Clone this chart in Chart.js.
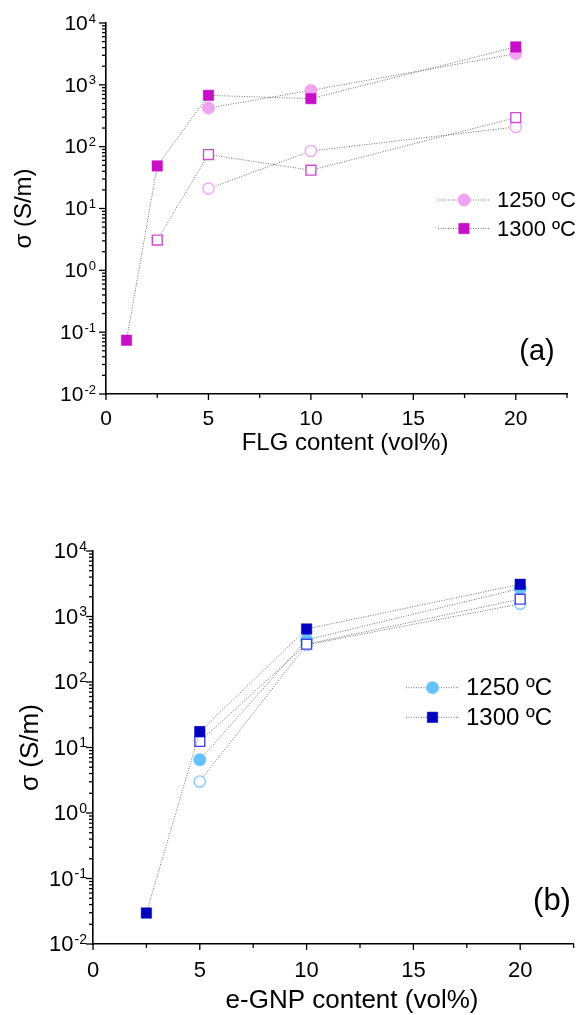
<!DOCTYPE html>
<html lang="en">
<head>
<meta charset="UTF-8">
<title>Conductivity vs filler content</title>
<script src="https://cdn.jsdelivr.net/npm/chart.js"></script>
<style>
  body { margin: 0; background: #fff; }
  .panel { position: absolute; left: 0; width: 582px; }
  #panelA { top: 0; height: 470px; }
  #panelB { top: 470px; height: 545px; }
</style>
</head>
<body>
<div class="panel" id="panelA"><canvas id="flgChart"></canvas></div>
<div class="panel" id="panelB"><canvas id="gnpChart"></canvas></div>

<script>
  // panel (a): FLG content (vol%) vs sigma (S/m)
  const flgX1300 = [1, 2.5, 5, 10, 20];
  const flgFilled1300 = [0.074, 48.8, 676, 598, 4100];
  const flgXOpen1300 = [2.5, 5, 10, 20];
  const flgOpen1300 = [3.08, 74.5, 41.6, 295];
  const flgX1250 = [5, 10, 20];
  const flgFilled1250 = [422, 813, 3190];
  const flgOpen1250 = [21, 85, 208];

  // panel (b): e-GNP content (vol%) vs sigma (S/m)
  const gnpX1300 = [2.5, 5, 10, 20];
  const gnpFilled1300 = [0.0297, 17.5, 645, 3100];
  const gnpX = [5, 10, 20];
  const gnpOpen1300 = [12.4, 378, 1840];
  const gnpFilled1250 = [6.5, 440, 2670];
  const gnpOpen1250 = [3.03, 370, 1560];

  const legendLabels = ['1250 ºC', '1300 ºC'];
  const yExponents = [-2, -1, 0, 1, 2, 3, 4];
  const xMajorTicks = [0, 5, 10, 15, 20];
  const xMinorTicks = [2.5, 7.5, 12.5, 17.5, 22.5];

  const FONT = '"Liberation Sans", Arial, sans-serif';
  const LINE_GREY = '#707070';

  const pink = { sq: '#c80fc8', circ: '#f0a4f0', openSq: '#d04cd0', openCirc: '#f6a6f6' };
  const blue = { sq: '#0000bf', circ: '#66c2ff', openSq: '#4242e4', openCirc: '#80caff' };

  function pts(xs, ys) {
    return xs.map((x, i) => ({ x: x, y: ys[i] }));
  }

  function series(xs, ys, style, color, filled) {
    const isRect = style === 'rect';
    return {
      data: pts(xs, ys),
      showLine: true,
      borderColor: LINE_GREY,
      borderWidth: 1,
      borderDash: [1, 1.5],
      tension: 0,
      pointStyle: style,
      pointRadius: isRect ? (filled ? 7.4 : 7) : (filled ? 6.2 : 5.6),
      pointBackgroundColor: filled ? color : '#ffffff',
      pointBorderColor: color,
      pointBorderWidth: filled ? 0.5 : 1.4
    };
  }

  function drawMarker(ctx, style, color, filled, x, y, r) {
    ctx.save();
    ctx.setLineDash([]);
    ctx.fillStyle = filled ? color : '#ffffff';
    ctx.strokeStyle = color;
    ctx.lineWidth = filled ? 0.5 : 1.4;
    ctx.beginPath();
    if (style === 'rect') {
      const h = r * Math.SQRT1_2;
      ctx.rect(x - h, y - h, 2 * h, 2 * h);
    } else {
      ctx.arc(x, y, r, 0, Math.PI * 2);
    }
    ctx.fill();
    ctx.stroke();
    ctx.restore();
  }

  // tick marks, superscript y labels, x title, legend and panel tag
  const axisDecor = {
    id: 'axisDecor',
    afterDraw(chart, args, d) {
      const ctx = chart.ctx;
      const xs = chart.scales.x, ys = chart.scales.y;
      const area = chart.chartArea;
      ctx.save();
      ctx.strokeStyle = '#000';
      ctx.lineWidth = 1.3;

      // y ticks (log decades with minor ticks)
      yExponents.forEach(e => {
        for (let m = 1; m <= 9; m++) {
          const v = m * Math.pow(10, e);
          if (v > ys.max * 1.0001) break;
          const py = ys.getPixelForValue(v);
          const len = m === 1 ? 7 : 4;
          ctx.beginPath();
          ctx.moveTo(area.left - len, py);
          ctx.lineTo(area.left, py);
          ctx.stroke();
        }
      });

      // x ticks
      xMajorTicks.concat(xMinorTicks).forEach(v => {
        const px = xs.getPixelForValue(v);
        const len = xMajorTicks.includes(v) ? 6 : 4;
        ctx.beginPath();
        ctx.moveTo(px, area.bottom);
        ctx.lineTo(px, area.bottom + len);
        ctx.stroke();
      });

      // y labels: 10 with raised exponent
      ctx.fillStyle = '#000';
      ctx.textBaseline = 'middle';
      ctx.textAlign = 'left';
      yExponents.forEach(e => {
        const py = ys.getPixelForValue(Math.pow(10, e));
        const expText = String(e);
        ctx.font = d.expSize + 'px ' + FONT;
        const wExp = ctx.measureText(expText).width;
        ctx.font = d.tickSize + 'px ' + FONT;
        const w10 = ctx.measureText('10').width;
        const right = area.left - d.labelGap;
        ctx.fillText('10', right - wExp - 1 - w10, py + 1);
        ctx.font = d.expSize + 'px ' + FONT;
        ctx.fillText(expText, right - wExp, py - 4);
      });

      // x axis title
      ctx.textAlign = 'center';
      ctx.font = d.titleSize + 'px ' + FONT;
      ctx.fillText(d.xTitle, d.xTitleX, d.xTitleY);

      // panel tag
      ctx.font = d.tagSize + 'px ' + FONT;
      ctx.fillText(d.tag, d.tagX, d.tagY);

      // legend
      ctx.textAlign = 'left';
      ctx.font = d.legendSize + 'px ' + FONT;
      d.legend.forEach((item, i) => {
        const y = d.legendY + i * d.legendStep;
        ctx.save();
        ctx.strokeStyle = LINE_GREY;
        ctx.lineWidth = 1;
        ctx.setLineDash([1, 1.5]);
        ctx.beginPath();
        ctx.moveTo(d.legendX0, y);
        ctx.lineTo(d.legendX1, y);
        ctx.stroke();
        ctx.restore();
        const r = item.style === 'rect' ? 7.4 : 6.2;
        drawMarker(ctx, item.style, item.color, true, (d.legendX0 + d.legendX1) / 2, y, r);
        ctx.fillStyle = '#000';
        ctx.fillText(legendLabels[i], d.legendX1 + 7, y + 1);
      });
      ctx.restore();
    }
  };

  function makePanel(canvasId, p) {
    return new Chart(document.getElementById(canvasId), {
      type: 'scatter',
      data: { datasets: p.datasets },
      options: {
        responsive: true,
        maintainAspectRatio: false,
        animation: false,
        events: [],
        layout: { padding: p.padding },
        plugins: {
          legend: { display: false },
          tooltip: { enabled: false },
          axisDecor: p.decor
        },
        scales: {
          x: {
            type: 'linear',
            min: 0,
            max: 22.5,
            grid: { display: false, drawTicks: false },
            border: { display: true, color: '#000', width: 1.6 },
            ticks: {
              padding: p.xTickPad,
              color: '#000',
              font: { family: FONT, size: p.decor.tickSize }
            },
            afterBuildTicks: s => { s.ticks = xMajorTicks.map(v => ({ value: v })); },
            afterFit: s => { s.height = p.xHeight; }
          },
          y: {
            type: 'logarithmic',
            min: 0.01,
            max: 10000,
            grid: { display: false, drawTicks: false },
            border: { display: true, color: '#000', width: 1.6 },
            ticks: { display: false },
            title: {
              display: true,
              text: 'σ (S/m)',
              color: '#000',
              font: { family: FONT, size: p.decor.titleSize },
              padding: { top: p.yTitlePad, bottom: 0 }
            },
            afterFit: s => { s.width = p.yWidth; }
          }
        }
      },
      plugins: [axisDecor]
    });
  }

  makePanel('flgChart', {
    datasets: [
      series(flgX1300, flgFilled1300, 'rect', pink.sq, true),
      series(flgX1250, flgFilled1250, 'circle', pink.circ, true),
      series(flgXOpen1300, flgOpen1300, 'rect', pink.openSq, false),
      series(flgX1250, flgOpen1250, 'circle', pink.openCirc, false)
    ],
    padding: { top: 23, right: 15, left: 0, bottom: 0 },
    yWidth: 106,
    xHeight: 76,
    xTickPad: 13,
    yTitlePad: 10,
    decor: {
      tickSize: 21, expSize: 13, titleSize: 24, legendSize: 22, tagSize: 29,
      labelGap: 10,
      xTitle: 'FLG content (vol%)', xTitleX: 345, xTitleY: 443,
      tag: '(a)', tagX: 537, tagY: 352,
      legendX0: 438, legendX1: 490, legendY: 200, legendStep: 28.5,
      legend: [{ style: 'circle', color: pink.circ }, { style: 'rect', color: pink.sq }]
    }
  });

  makePanel('gnpChart', {
    datasets: [
      series(gnpX1300, gnpFilled1300, 'rect', blue.sq, true),
      series(gnpX, gnpOpen1300, 'rect', blue.openSq, false),
      series(gnpX, gnpFilled1250, 'circle', blue.circ, true),
      series(gnpX, gnpOpen1250, 'circle', blue.openCirc, false)
    ],
    padding: { top: 81, right: 0, left: 0, bottom: 0 },
    yWidth: 93,
    xHeight: 71,
    xTickPad: 14,
    yTitlePad: 15,
    decor: {
      tickSize: 22, expSize: 14, titleSize: 26, legendSize: 24, tagSize: 31,
      labelGap: 6,
      xTitle: 'e-GNP content (vol%)', xTitleX: 352, xTitleY: 531,
      tag: '(b)', tagX: 552, tagY: 431,
      legendX0: 406, legendX1: 459, legendY: 217.7, legendStep: 29.6,
      legend: [{ style: 'circle', color: blue.circ }, { style: 'rect', color: blue.sq }]
    }
  });
</script>
</body>
</html>
